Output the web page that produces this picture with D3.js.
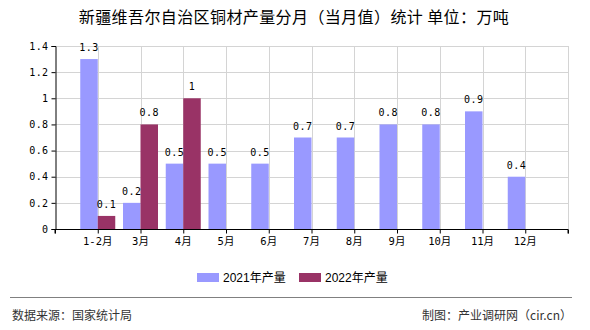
<!DOCTYPE html>
<html><head><meta charset="utf-8">
<script src="https://cdn.jsdelivr.net/npm/d3@7"></script>
<style>
html,body{margin:0;padding:0;background:#fff;}
svg{display:block;}
</style></head>
<body><svg id="c" width="590" height="330"></svg>
<script>
const title = "新疆维吾尔自治区铜材产量分月（当月值）统计 单位：万吨";
const categories = ["1-2月","3月","4月","5月","6月","7月","8月","9月","10月","11月","12月"];
const seriesNames = ["2021年产量","2022年产量"];
const values2021 = [1.3,0.2,0.5,0.5,0.5,0.7,0.7,0.8,0.8,0.9,0.4];
const values2022 = [0.1,0.8,1,null,null,null,null,null,null,null,null];
const yTicks = [0,0.2,0.4,0.6,0.8,1,1.2,1.4];
const colors = ["#9999ff","#993366"];
const sourceText = "数据来源：国家统计局";
const creditText = "制图：产业调研网（cir.cn）";

const svg = d3.select("#c");
const L = 55, R = 568, T = 46, B = 229;
const monoFont = "'DejaVu Sans Mono','Noto Sans CJK SC',monospace";
const cjkFont = "'Liberation Sans','Noto Sans CJK SC',sans-serif";

const xIdx = d3.scaleLinear().domain([0, categories.length + 1]).range([L, R]);
const xPos = d3.scalePoint().domain(categories).range([xIdx(1), xIdx(categories.length)]);
const xSub = d3.scaleBand().domain(seriesNames).range([-17.5, 17.5]);
const y = d3.scaleLinear().domain([0, 1.4]).range([B, T]);

// title
svg.append("text").attr("x", 294).attr("y", 23).attr("text-anchor","middle")
  .attr("font-family","'Noto Sans CJK SC',sans-serif").attr("font-size",16)
  .attr("letter-spacing",0.4).attr("fill","#000").text(title);

// gridlines
const grid = svg.append("g").attr("stroke","#d4d4d4").attr("stroke-width",1);
yTicks.filter(d => d > 0).forEach(t => {
  grid.append("line").attr("x1",L).attr("x2",R).attr("y1",Math.round(y(t))+0.5).attr("y2",Math.round(y(t))+0.5);
});
d3.range(1, categories.length + 2).forEach(i => {
  grid.append("line").attr("x1",Math.round(xIdx(i))+0.5).attr("x2",Math.round(xIdx(i))+0.5).attr("y1",T).attr("y2",B);
});

// bars
const seriesData = [values2021, values2022];
seriesData.forEach((vals, si) => {
  const g = svg.append("g");
  categories.forEach((c, i) => {
    const v = vals[i];
    if (v == null) return;
    const x0 = xPos(c) + xSub(seriesNames[si]);
    g.append("rect").attr("x", x0).attr("y", y(v)).attr("width", xSub.bandwidth())
      .attr("height", y(0) - y(v)).attr("fill", colors[si]);
  });
});
// value labels
seriesData.forEach((vals, si) => {
  categories.forEach((c, i) => {
    const v = vals[i];
    if (v == null) return;
    const cx = xPos(c) + xSub(seriesNames[si]) + xSub.bandwidth()/2;
    svg.append("text").attr("x", cx).attr("y", y(v) - 8).attr("text-anchor","middle")
      .attr("font-family", monoFont).attr("font-size",10).attr("letter-spacing",0.5).attr("fill","#000")
      .text(d3.format("~g")(v));
  });
});

// y axis
const yAxis = d3.axisLeft(y).tickValues(yTicks).tickSize(4).tickPadding(3).tickFormat(d3.format("~g"));
const ya = svg.append("g").attr("transform",`translate(${L+0.5},0)`).call(yAxis);
ya.select(".domain").attr("stroke","#000");
ya.selectAll(".tick line").attr("stroke","#000");
ya.selectAll("text").attr("font-family",monoFont).attr("font-size",10).attr("letter-spacing",0.4).attr("fill","#000");

// x axis
const xTickScale = d3.scaleLinear().domain([0, categories.length + 1]).range([L, R]);
const xa = svg.append("g").attr("transform",`translate(0,${B+0.5})`)
  .call(d3.axisBottom(xTickScale).tickValues(d3.range(0, categories.length + 2)).tickSize(4).tickFormat(""));
xa.select(".domain").attr("stroke","#000").attr("d", `M${L},4V0H${R}V4`);
xa.selectAll(".tick line").attr("stroke","#000");
categories.forEach(c => {
  svg.append("text").attr("x", xPos(c)).attr("y", 245).attr("text-anchor","middle")
    .attr("font-family", monoFont).attr("font-size",10.5).attr("fill","#000").text(c);
});

// legend
const legX = [197, 299];
seriesNames.forEach((s, i) => {
  svg.append("rect").attr("x", legX[i]).attr("y", 273).attr("width", 22).attr("height", 9).attr("fill", colors[i]);
  svg.append("text").attr("x", legX[i] + 26).attr("y", 281.5).attr("font-family", cjkFont)
    .attr("font-size",12).attr("fill","#000").text(s);
});

// footer
svg.append("line").attr("x1",10).attr("x2",572).attr("y1",297.5).attr("y2",297.5).attr("stroke","#808080").attr("stroke-width",1);
svg.append("text").attr("x",12).attr("y",320).attr("font-family","'Noto Sans CJK SC',sans-serif")
  .attr("font-size",12).attr("fill","#333").text(sourceText);
svg.append("text").attr("x",572).attr("y",320).attr("text-anchor","end").attr("font-family","'Noto Sans CJK SC',sans-serif")
  .attr("font-size",12).attr("fill","#333").text(creditText);
</script></body></html>
